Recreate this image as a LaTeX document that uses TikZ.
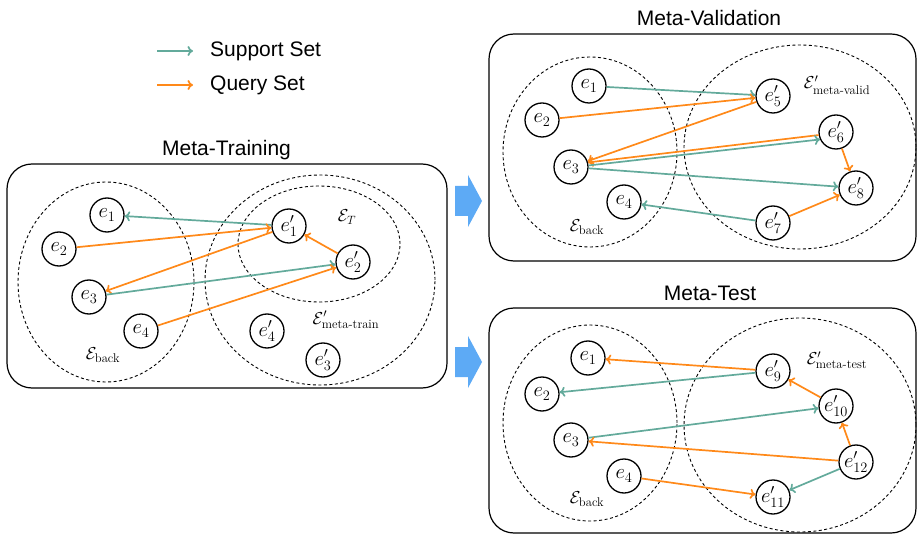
\documentclass[tikz,border=0pt]{standalone}
\usepackage{amsmath}
\usepackage{fontspec}
\newfontfamily\hvfont{Liberation Sans}
\usetikzlibrary{arrows.meta}
\definecolor{suppc}{RGB}{99,170,155}
\definecolor{querc}{RGB}{255,137,25}
\definecolor{bluec}{RGB}{93,170,245}
\tikzset{
  ent/.style={circle, draw, line width=1.3pt, minimum size=34pt, inner sep=0pt, font=\fontsize{20}{24}\selectfont},
  setlabel/.style={inner sep=0pt, font=\fontsize{18}{22}\selectfont},
  suparrow/.style={draw=suppc, line width=1.7pt, -{To[length=5.5pt,width=10pt]}},
  qryarrow/.style={draw=querc, line width=1.7pt, -{To[length=5.5pt,width=10pt]}},
  dashcirc/.style={draw, line width=0.9pt, dash pattern=on 3pt off 2.5pt},
  panel/.style={draw, line width=1.2pt, rounded corners=25pt},
  title/.style={inner sep=0pt, anchor=base, font=\hvfont\fontsize{21}{24}\selectfont},
  legtext/.style={inner sep=0pt, anchor=base west, font=\hvfont\fontsize{21}{24}\selectfont},
  blockarrow/.style={fill=bluec, draw=none}
}
\begin{document}
\begin{tikzpicture}[x=1pt,y=-1pt]
\useasboundingbox (0,0) rectangle (917,534);

% legend
\coordinate (lsa) at (157,51);
\coordinate (lsb) at (193,51);
\coordinate (lqa) at (157,85);
\coordinate (lqb) at (193,85);
\draw[suparrow] (lsa) -- (lsb);
\draw[qryarrow] (lqa) -- (lqb);
\node[legtext] (lsupp) at (210,57) {Support Set};
\node[legtext] (lquer) at (210,91) {Query Set};

% titles
\node[title] (ttrain) at (226.5,156) {Meta-Training};
\node[title] (tvalid) at (709,26) {Meta-Validation};
\node[title] (ttest) at (710,301) {Meta-Test};

% panels
\draw[panel] (7,164) rectangle (447,388);
\draw[panel] (489,34) rectangle (916,261);
\draw[panel] (489,308) rectangle (916,533);

% block arrows
\fill[blockarrow] (455,186) -- (468,186) -- (468,175) -- (482,201) -- (468,227) -- (468,216) -- (455,216) -- cycle;
\fill[blockarrow] (455,347) -- (468,347) -- (468,336) -- (482,362) -- (468,388) -- (468,377) -- (455,377) -- cycle;

% ===== Meta-Training =====
\draw[dashcirc] (106,282) ellipse [x radius=88pt, y radius=100pt];
\draw[dashcirc] (320,280) ellipse [x radius=115pt, y radius=105pt];
\draw[dashcirc] (319,244) ellipse [x radius=81pt, y radius=58pt];
\node[ent] (tr1) at (107,215) {$e_1$};
\node[ent] (tr2) at (59,249) {$e_2$};
\node[ent] (tr3) at (89,297) {$e_3$};
\node[ent] (tr4) at (141,331) {$e_4$};
\node[ent] (trp1) at (289,226) {$e'_1$};
\node[ent] (trp2) at (353,262) {$e'_2$};
\node[ent] (trp4) at (267,331) {$e'_4$};
\node[ent] (trp3) at (323,360) {$e'_3$};
\node[setlabel] (trlT) at (347,217) {$\mathcal{E}_T$};
\node[setlabel] (trlM) at (346,320) {$\mathcal{E}'_{\text{meta-train}}$};
\node[setlabel] (trlB) at (103,355) {$\mathcal{E}_{\text{back}}$};
\draw[suparrow] (trp1) -- (tr1);
\draw[qryarrow] (tr2) -- (trp1);
\draw[qryarrow] (trp1) -- (tr3);
\draw[suparrow] (tr3) -- (trp2);
\draw[qryarrow] (tr4) -- (trp2);
\draw[qryarrow] (trp2) -- (trp1);

% ===== Meta-Validation =====
\draw[dashcirc] (590,152) ellipse [x radius=87pt, y radius=95pt];
\draw[dashcirc] (800,147) ellipse [x radius=116pt, y radius=102pt];
\node[ent] (va1) at (589,86) {$e_1$};
\node[ent] (va2) at (542,120) {$e_2$};
\node[ent] (va3) at (571,167) {$e_3$};
\node[ent] (va4) at (624,202) {$e_4$};
\node[ent] (vap5) at (773,96) {$e'_5$};
\node[ent] (vap6) at (836,132) {$e'_6$};
\node[ent] (vap8) at (856,188) {$e'_8$};
\node[ent] (vap7) at (773,223) {$e'_7$};
\node[setlabel] (valM) at (837,85) {$\mathcal{E}'_{\text{meta-valid}}$};
\node[setlabel] (valB) at (587,227) {$\mathcal{E}_{\text{back}}$};
\draw[suparrow] (va1) -- (vap5);
\draw[qryarrow] (va2) -- (vap5);
\draw[qryarrow] (vap5) -- (va3);
\draw[qryarrow] (vap6.190) -- (va3.15);
\draw[suparrow] (va3.5) -- (vap6.205);
\draw[suparrow] (va3) -- (vap8);
\draw[qryarrow] (vap6) -- (vap8);
\draw[suparrow] (vap7) -- (va4);
\draw[qryarrow] (vap7) -- (vap8);

% ===== Meta-Test =====
\draw[dashcirc] (590,423) ellipse [x radius=87pt, y radius=98pt];
\draw[dashcirc] (800,425) ellipse [x radius=116pt, y radius=107pt];
\node[ent] (te1) at (588,358) {$e_1$};
\node[ent] (te2) at (542,394) {$e_2$};
\node[ent] (te3) at (571,440) {$e_3$};
\node[ent] (te4) at (624,476) {$e_4$};
\node[ent] (tep9) at (773,371) {$e'_9$};
\node[ent] (tep10) at (836,406) {$e'_{10}$};
\node[ent] (tep12) at (856,462) {$e'_{12}$};
\node[ent] (tep11) at (773,497) {$e'_{11}$};
\node[setlabel] (telM) at (837,360) {$\mathcal{E}'_{\text{meta-test}}$};
\node[setlabel] (telB) at (587,499) {$\mathcal{E}_{\text{back}}$};
\draw[qryarrow] (tep9) -- (te1);
\draw[suparrow] (tep9) -- (te2);
\draw[suparrow] (te3) -- (tep10);
\draw[qryarrow] (tep10) -- (tep9);
\draw[qryarrow] (tep12) -- (te3);
\draw[qryarrow] (tep12) -- (tep10);
\draw[suparrow] (tep12) -- (tep11);
\draw[qryarrow] (te4) -- (tep11);
\end{tikzpicture}
\end{document}
